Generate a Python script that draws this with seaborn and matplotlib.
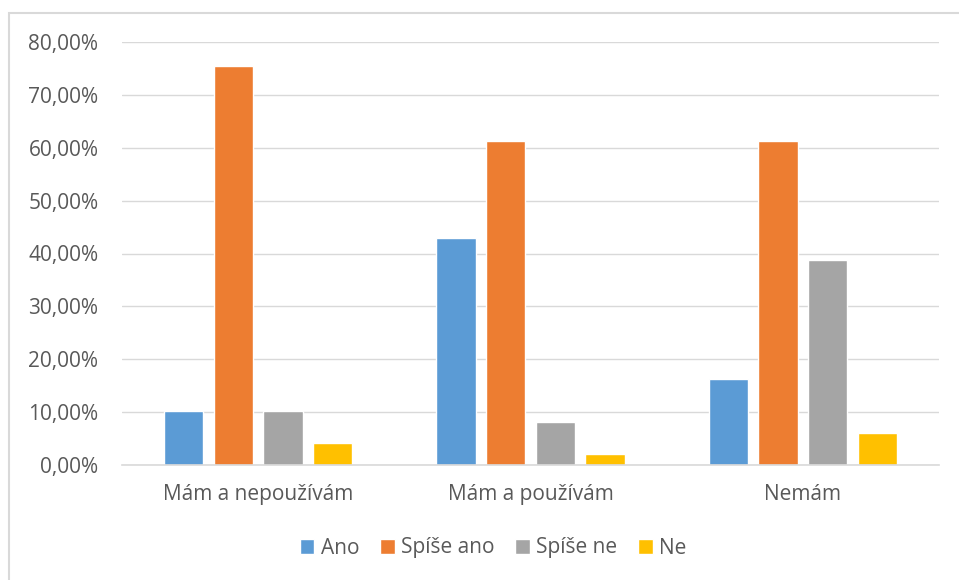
import matplotlib
matplotlib.use("Agg")
import matplotlib.pyplot as plt
from matplotlib.patches import Rectangle
from matplotlib.ticker import FuncFormatter
import pandas as pd
import seaborn as sns

categories = ["Mám a nepoužívám", "Mám a používám", "Nemám"]
answers = ["Ano", "Spíše ano", "Spíše ne", "Ne"]
ano = [10.20, 42.86, 16.33]
spise_ano = [75.51, 61.22, 61.22]
spise_ne = [10.20, 8.16, 38.78]
ne = [4.08, 2.04, 6.12]
colors = ["#5B9BD5", "#ED7D31", "#A5A5A5", "#FFC000"]

series = [ano, spise_ano, spise_ne, ne]
rows = []
for ans, vals in zip(answers, series):
    for cat, v in zip(categories, vals):
        rows.append({"cat": cat, "ans": ans, "val": v / 100})
df = pd.DataFrame(rows)

sns.set_style("white")
plt.rcParams["font.family"] = ["Open Sans", "DejaVu Sans"]
text_color = "#595959"
grid_color = "#D9D9D9"

W, H = 959, 580
fig = plt.figure(figsize=(W / 100, H / 100), dpi=100)
fig.patch.set_facecolor("white")

# chart frame
fig.patches.append(Rectangle((9 / W, -0.1), 1.2, 1 - 13 / H + 0.1,
                             transform=fig.transFigure, fill=False,
                             edgecolor=grid_color, linewidth=1.5))

ax = fig.add_axes([122 / W, 1 - 465 / H, (939 - 122) / W, (465 - 42) / H])
sns.barplot(data=df, x="cat", y="val", hue="ans", order=categories,
            hue_order=answers, palette=colors, width=0.73, gap=0.21,
            saturation=1, ax=ax, legend=False, errorbar=None)

ax.set_ylim(0, 0.8)
ax.set_yticks([i / 10 for i in range(9)])
ax.yaxis.set_major_formatter(FuncFormatter(lambda v, p: f"{v * 100:.2f}%".replace(".", ",")))
ax.set_xlim(-0.5, 2.5)
ax.grid(axis="y", color=grid_color, linewidth=1)
ax.set_axisbelow(True)
for s in ["top", "right", "left"]:
    ax.spines[s].set_visible(False)
ax.spines["bottom"].set_color(grid_color)
ax.spines["bottom"].set_linewidth(1.2)
ax.tick_params(axis="both", length=0, labelsize=15, colors=text_color)
ax.tick_params(axis="y", pad=17)
ax.tick_params(axis="x", pad=14)
ax.set_xlabel("")
ax.set_ylabel("")

handles = [Rectangle((0, 0), 1, 1, facecolor=c) for c in colors]
fig.legend(handles, answers, loc="center", bbox_to_anchor=(493 / W, 1 - 548 / H),
           ncol=4, frameon=False, fontsize=15, labelcolor=text_color,
           handlelength=0.7, handleheight=0.7, handletextpad=0.3,
           columnspacing=1.0)

fig.savefig("out.png", dpi=100, facecolor="white")
